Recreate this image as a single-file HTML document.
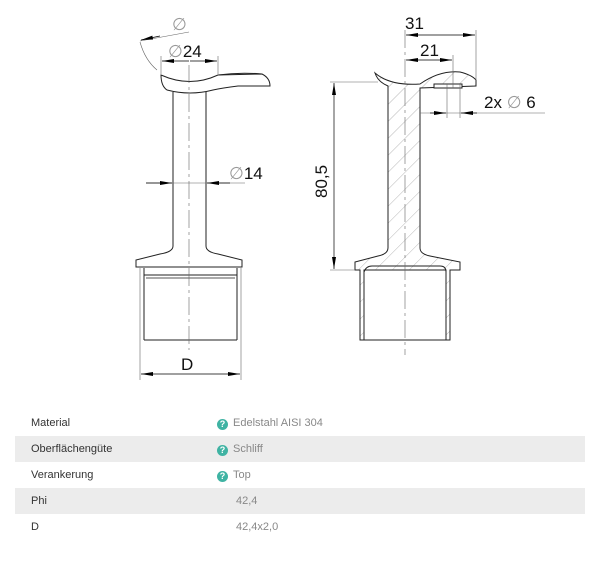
<!DOCTYPE html>
<html><head><style>
body{margin:0;background:#fff;width:600px;height:565px;overflow:hidden;font-family:"Liberation Sans",sans-serif;}
svg{position:absolute;left:0;top:0}
.row{position:absolute;left:15px;width:570px;height:26px;font-size:11px;color:#333;}
.row.g{background:#ececec}
.row .l{position:absolute;left:16px;top:7px}
.row .v{position:absolute;left:202px;top:7px;color:#888}
.q{display:inline-block;width:11px;height:11px;border-radius:50%;background:#3fb3a3;color:#fff;font-size:9px;font-weight:bold;text-align:center;line-height:11px;margin-right:5px;vertical-align:-1px}
</style></head><body>
<svg width="600" height="400" viewBox="0 0 600 400">
<defs>
<marker id="a" markerWidth="12" markerHeight="6" refX="12" refY="3" orient="auto" markerUnits="userSpaceOnUse"><path d="M0,1 L12,3 L0,5z" fill="#000"/></marker>
<pattern id="h" width="12" height="12" patternUnits="userSpaceOnUse" patternTransform="rotate(45)"><line x1="0" y1="0" x2="0" y2="12" stroke="#888" stroke-width="0.6"/></pattern>
</defs>
<g fill="none" stroke="#222" stroke-width="1">
<path d="M161,75 Q190,88 218,75 L262,74 Q270,78 270,86 L238,86 Q222,88 213,90 Q190,96 167,90 Q161,86 161,75z" fill="#fff"/>
<path d="M218,75 Q240,72 262,74" />
<line x1="173" y1="92" x2="173" y2="246"/><line x1="206" y1="92" x2="206" y2="246"/>
<path d="M173,246 Q173,252 160,254 L136,260 L136,267 L242,267 L242,260 L218,254 Q206,252 206,246"/>
<line x1="144" y1="268" x2="144" y2="340"/><line x1="237" y1="268" x2="237" y2="340"/>
<line x1="144" y1="275" x2="237" y2="275"/><line x1="144" y1="340" x2="237" y2="340"/>
<line x1="146" y1="278" x2="235" y2="278" stroke="#555"/>
</g>
<g stroke="#666" stroke-width="0.6" fill="none">
<line x1="189" y1="65" x2="189" y2="350" stroke-dasharray="18,4,3,4"/>
<line x1="140" y1="268" x2="140" y2="380"/><line x1="241" y1="268" x2="241" y2="380"/>
<line x1="161" y1="56" x2="161" y2="74"/><line x1="218" y1="56" x2="218" y2="74"/>
<line x1="146" y1="183" x2="245" y2="183"/>
<path d="M140,42 Q145,60 157,70"/>
<line x1="140" y1="41" x2="189" y2="32"/>
</g>
<g stroke="#000" stroke-width="0.7">
<line x1="189" y1="61" x2="162" y2="61" marker-end="url(#a)"/>
<line x1="190" y1="61" x2="217" y2="61" marker-end="url(#a)"/>
<line x1="146" y1="183" x2="172" y2="183" marker-end="url(#a)"/>
<line x1="230" y1="183" x2="207" y2="183" marker-end="url(#a)"/>
<line x1="190" y1="374" x2="141" y2="374" marker-end="url(#a)"/>
<line x1="190" y1="374" x2="240" y2="374" marker-end="url(#a)"/>
<line x1="160" y1="36" x2="141" y2="40" marker-end="url(#a)"/>
</g>
<g font-size="17" fill="#111" font-family="Liberation Sans,sans-serif">
<text x="172" y="30" fill="#999">∅</text>
<text x="168" y="57"><tspan fill="#999">∅</tspan>24</text>
<text x="229" y="179"><tspan fill="#999">∅</tspan>14</text>
<text x="181" y="370">D</text>
<text x="405" y="29">31</text>
<text x="420" y="56">21</text>
<text x="484" y="108">2x <tspan fill="#999">∅</tspan> 6</text>
<text transform="translate(327,198) rotate(-90)">80,5</text>
</g>
<g fill="none" stroke="#222" stroke-width="1">
<path d="M375,73 Q390,86 420,84 Q440,70 460,72 Q472,75 476,80 L476,86 L420,88 L420,248 Q420,254 430,256 L460,262 L460,270 L450,270 L450,340 L360,340 L360,270 L355,270 L355,262 L378,256 Q388,254 388,248 L388,86 Q378,82 375,73z" fill="url(#h)"/>
<rect x="364" y="270" width="82" height="70" fill="#fff"/>
<path d="M364,340 L364,272 Q366,266 372,266 L440,266 Q446,266 446,272 L446,340" fill="none"/>
<rect x="434" y="84" width="28" height="4" fill="#fff"/>
</g>
<g stroke="#666" stroke-width="0.6" fill="none">
<line x1="405" y1="30" x2="405" y2="355" stroke-dasharray="18,4,3,4"/>
<line x1="476" y1="30" x2="476" y2="80"/>
<line x1="453" y1="55" x2="453" y2="88"/>
<line x1="447" y1="84" x2="447" y2="118"/><line x1="460" y1="84" x2="460" y2="118"/>
<line x1="330" y1="82" x2="378" y2="82"/><line x1="330" y1="270" x2="355" y2="270"/>
<line x1="420" y1="113" x2="545" y2="113"/>
</g>
<g stroke="#000" stroke-width="0.7">
<line x1="440" y1="35" x2="406" y2="35" marker-end="url(#a)"/>
<line x1="440" y1="35" x2="475" y2="35" marker-end="url(#a)"/>
<line x1="430" y1="60" x2="406" y2="60" marker-end="url(#a)"/>
<line x1="430" y1="60" x2="452" y2="60" marker-end="url(#a)"/>
<line x1="430" y1="113" x2="446" y2="113" marker-end="url(#a)"/>
<line x1="477" y1="113" x2="461" y2="113" marker-end="url(#a)"/>
<line x1="334" y1="170" x2="334" y2="83" marker-end="url(#a)"/>
<line x1="334" y1="170" x2="334" y2="269" marker-end="url(#a)"/>
</g>
</svg>
<div class="row" style="top:410px"><span class="l">Material</span><span class="v"><span class="q">?</span>Edelstahl AISI 304</span></div>
<div class="row g" style="top:436px"><span class="l">Oberflächengüte</span><span class="v"><span class="q">?</span>Schliff</span></div>
<div class="row" style="top:462px"><span class="l">Verankerung</span><span class="v"><span class="q">?</span>Top</span></div>
<div class="row g" style="top:488px"><span class="l">Phi</span><span class="v" style="left:221px">42,4</span></div>
<div class="row" style="top:514px"><span class="l">D</span><span class="v" style="left:221px">42,4x2,0</span></div>
</body></html>
